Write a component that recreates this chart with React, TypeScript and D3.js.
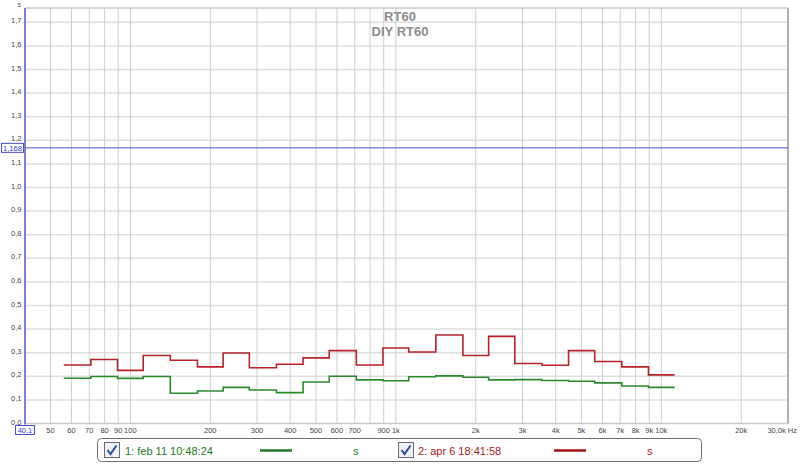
import React from "react";
import * as d3 from "d3";

const bandCenters = [63, 80, 100, 125, 160, 200, 250, 315, 400, 500, 630, 800, 1000, 1250, 1600, 2000, 2500, 3150, 4000, 5000, 6300, 8000, 10000];
const seriesFeb = [0.192, 0.199, 0.191, 0.199, 0.128, 0.138, 0.153, 0.142, 0.131, 0.176, 0.200, 0.185, 0.181, 0.198, 0.202, 0.196, 0.185, 0.186, 0.182, 0.179, 0.172, 0.159, 0.153];
const seriesApr = [0.248, 0.271, 0.225, 0.288, 0.268, 0.240, 0.299, 0.236, 0.251, 0.278, 0.309, 0.248, 0.320, 0.303, 0.375, 0.288, 0.369, 0.254, 0.247, 0.309, 0.263, 0.240, 0.206];
const gridFreqs = [50, 60, 70, 80, 90, 100, 200, 300, 400, 500, 600, 700, 800, 900, 1000, 2000, 3000, 4000, 5000, 6000, 7000, 8000, 9000, 10000, 20000];
const xTickValues = [50, 60, 70, 80, 90, 100, 200, 300, 400, 500, 600, 700, 900, 1000, 2000, 3000, 4000, 5000, 6000, 7000, 8000, 9000, 10000, 20000];
const xTickLabels = ["50", "60", "70", "80", "90", "100", "200", "300", "400", "500", "600", "700", "900", "1k", "2k", "3k", "4k", "5k", "6k", "7k", "8k", "9k", "10k", "20k"];
const yTickValues = [0, 0.1, 0.2, 0.3, 0.4, 0.5, 0.6, 0.7, 0.8, 0.9, 1.0, 1.1, 1.2, 1.3, 1.4, 1.5, 1.6, 1.7];
const cursorValue = 1.168;
const legendNames = ["1: feb 11 10:48:24", "2: apr 6 18:41:58"];
const titleLines = ["RT60", "DIY RT60"];

const L = 25, R = 788, T = 8, B = 423.5;
const x = d3.scaleLog().domain([40.1, 30000]).range([L, R]);
const y = d3.scaleLinear().domain([0, (B - T) / 236]).range([B, T]);

function edges(): number[] {
  const e: number[] = [];
  const r = Math.pow(2, 1 / 6);
  e.push(bandCenters[0] / r);
  for (let i = 1; i < bandCenters.length; i++) e.push(Math.sqrt(bandCenters[i - 1] * bandCenters[i]));
  e.push(bandCenters[bandCenters.length - 1] * r);
  return e;
}

function stepPath(vals: number[]): string {
  const e = edges();
  const pts: [number, number][] = vals.map((v, i) => [e[i], v]);
  pts.push([e[e.length - 1], vals[vals.length - 1]]);
  const line = d3.line<[number, number]>().x(d => x(d[0])).y(d => y(d[1])).curve(d3.curveStepAfter);
  return line(pts) || "";
}

const fmtY = (v: number) => v.toFixed(1).replace(".", ",");
const FONT = "'Liberation Sans', Arial, sans-serif";

function Check({ x0, y0 }: { x0: number; y0: number }) {
  return (
    <g>
      <rect x={x0 + 0.5} y={y0 + 0.5} width={15} height={15} fill="#eef0f8" stroke="#6a6a7a" />
      <path d={`M${x0 + 3.5},${y0 + 8} L${x0 + 6.5},${y0 + 12} L${x0 + 12.5},${y0 + 3.5}`} fill="none" stroke="#2a4a9a" strokeWidth={2} />
    </g>
  );
}

export default function App() {
  const greenC = "#2a8a2a";
  const redC = "#b52228";
  return (
    <svg width={800} height={464} style={{ position: "absolute", left: 0, top: 0, background: "#fff" }} fontFamily={FONT}>
      <rect x={0} y={0} width={800} height={464} fill="#fff" />
      {/* horizontal grid */}
      {yTickValues.filter(v => v > 0).map(v => (
        <line key={"h" + v} x1={L} x2={R} y1={y(v)} y2={y(v)} stroke="#dedede" strokeWidth={1.5} />
      ))}
      {/* vertical grid */}
      {gridFreqs.map(f => (
        <line key={"v" + f} x1={x(f)} x2={x(f)} y1={T} y2={B} stroke="#cfcfcf" strokeWidth={1} />
      ))}
      {/* borders */}
      <line x1={L} x2={R} y1={T} y2={T} stroke="#c8c8c8" strokeWidth={1.5} />
      <line x1={L} x2={R} y1={B} y2={B} stroke="#c8c8c8" strokeWidth={1.5} />
      <line x1={R} x2={R} y1={T} y2={B} stroke="#b0b0b0" strokeWidth={2} />
      <line x1={L} x2={L} y1={T} y2={B + 1} stroke="#8080dc" strokeWidth={2} />

      {/* title */}
      <text x={400} y={21} textAnchor="middle" fontSize={13} fontWeight="bold" fill="#8c8c8c">{titleLines[0]}</text>
      <text x={400} y={36} textAnchor="middle" fontSize={13} fontWeight="bold" fill="#8c8c8c">{titleLines[1]}</text>

      {/* series */}
      <path d={stepPath(seriesFeb)} fill="none" stroke={greenC} strokeWidth={1.6} />
      <path d={stepPath(seriesApr)} fill="none" stroke={redC} strokeWidth={1.6} />

      {/* cursor line */}
      <line x1={L} x2={R} y1={y(cursorValue)} y2={y(cursorValue)} stroke="#5050cc" strokeWidth={1} />
      <rect x={1.5} y={y(cursorValue) - 4.5} width={22} height={9} fill="#fff" stroke="#4a4acc" strokeWidth={1} />
      <text x={12.5} y={y(cursorValue) + 3} textAnchor="middle" fontSize={7.5} fill="#3a3acc">{cursorValue.toFixed(3).replace(".", ",")}</text>

      {/* y labels */}
      <text x={21} y={7} textAnchor="end" fontSize={7} fill="#444">s</text>
      {yTickValues.map(v => (
        <text key={"yl" + v} x={21.5} y={y(v) + 1} textAnchor="end" fontSize={7.5} fill="#444">{fmtY(v)}</text>
      ))}

      {/* x labels */}
      <rect x={15.5} y={425.5} width={19} height={9} fill="#fff" stroke="#4a4acc" strokeWidth={1} />
      <text x={25} y={433} textAnchor="middle" fontSize={7.5} fill="#3a3acc">40,1</text>
      {xTickValues.map((f, i) => (
        <text key={"xl" + f} x={x(f)} y={433} textAnchor="middle" fontSize={7.5} fill="#444">{xTickLabels[i]}</text>
      ))}
      <text x={797} y={433} textAnchor="end" fontSize={7.5} fill="#444">30,0k Hz</text>

      {/* legend */}
      <rect x={97.5} y={438.5} width={604} height={23} rx={4} fill="#fff" stroke="#707070" strokeWidth={1} />
      <Check x0={104} y0={442} />
      <text x={125} y={454.5} fontSize={11} fill="#207a20">{legendNames[0]}</text>
      <line x1={260} x2={292} y1={450.5} y2={450.5} stroke="#1f7a1f" strokeWidth={2.5} />
      <text x={353} y={454.5} fontSize={11} fill="#207a20">s</text>
      <Check x0={398} y0={442} />
      <text x={418} y={454.5} fontSize={11} fill="#a51a1a">{legendNames[1]}</text>
      <line x1={554} x2={586} y1={450.5} y2={450.5} stroke="#a51010" strokeWidth={2.5} />
      <text x={647} y={454.5} fontSize={11} fill="#a51a1a">s</text>
    </svg>
  );
}
